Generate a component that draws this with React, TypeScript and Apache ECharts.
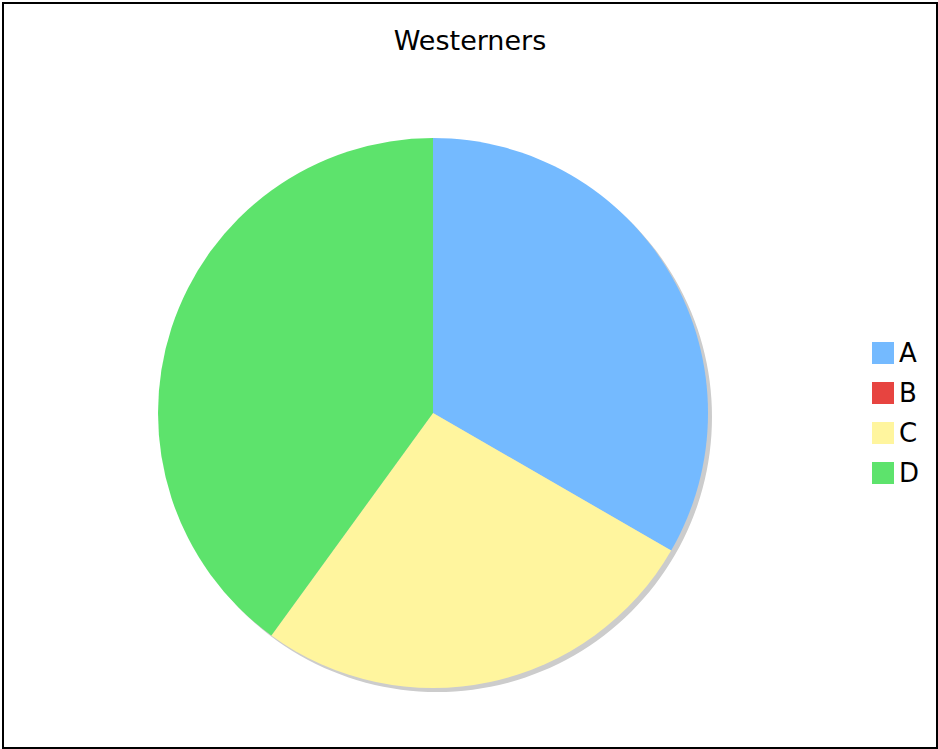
import React, { useEffect, useRef } from "react";
import * as echarts from "echarts";

const title = "Westerners";
const categories = ["A", "B", "C", "D"];
const values = [5, 0, 4, 6];
const colors = ["#74BAFF", "#E74440", "#FFF59E", "#5DE36C"];

export default function App() {
  const ref = useRef<HTMLDivElement>(null);
  useEffect(() => {
    document.body.style.margin = "0";
    const chart = echarts.init(ref.current!, null, { renderer: "svg" });
    const total = values.reduce((a, b) => a + b, 0);
    chart.setOption({
      animation: false,
      backgroundColor: "#fff",
      title: {
        text: title,
        left: "center",
        top: 18,
        textStyle: { fontFamily: "DejaVu Sans", fontSize: 27, fontWeight: "normal", color: "#000" },
      },
      legend: {
        orient: "vertical",
        left: 868,
        top: 336,
        padding: 0,
        itemWidth: 22,
        itemHeight: 22,
        itemGap: 14,
        icon: "rect",
        textStyle: { fontFamily: "DejaVu Sans", fontSize: 26, lineHeight: 26, color: "#000" },
        data: categories,
      },
      series: [
        {
          type: "pie",
          name: "shadow",
          center: [433, 413],
          radius: 275,
          silent: true,
          z: 1,
          label: { show: false },
          labelLine: { show: false },
          emphasis: { disabled: true },
          itemStyle: { color: "#CCCCCC" },
          data: [{ name: "_shadow", value: total }],
        },
        {
          type: "pie",
          center: [429, 409],
          radius: 275,
          startAngle: 90,
          clockwise: true,
          z: 2,
          label: { show: false },
          labelLine: { show: false },
          emphasis: { disabled: true },
          itemStyle: { borderWidth: 0 },
          data: categories.map((c, i) => ({ name: c, value: values[i], itemStyle: { color: colors[i] } })),
        },
      ],
    });
    return () => chart.dispose();
  }, []);
  return (
    <div
      style={{
        position: "absolute",
        left: 2,
        top: 2,
        width: 936,
        height: 747,
        boxSizing: "border-box",
        border: "2px solid #000",
      }}
    >
      <div ref={ref} style={{ width: 932, height: 743 }} />
    </div>
  );
}
